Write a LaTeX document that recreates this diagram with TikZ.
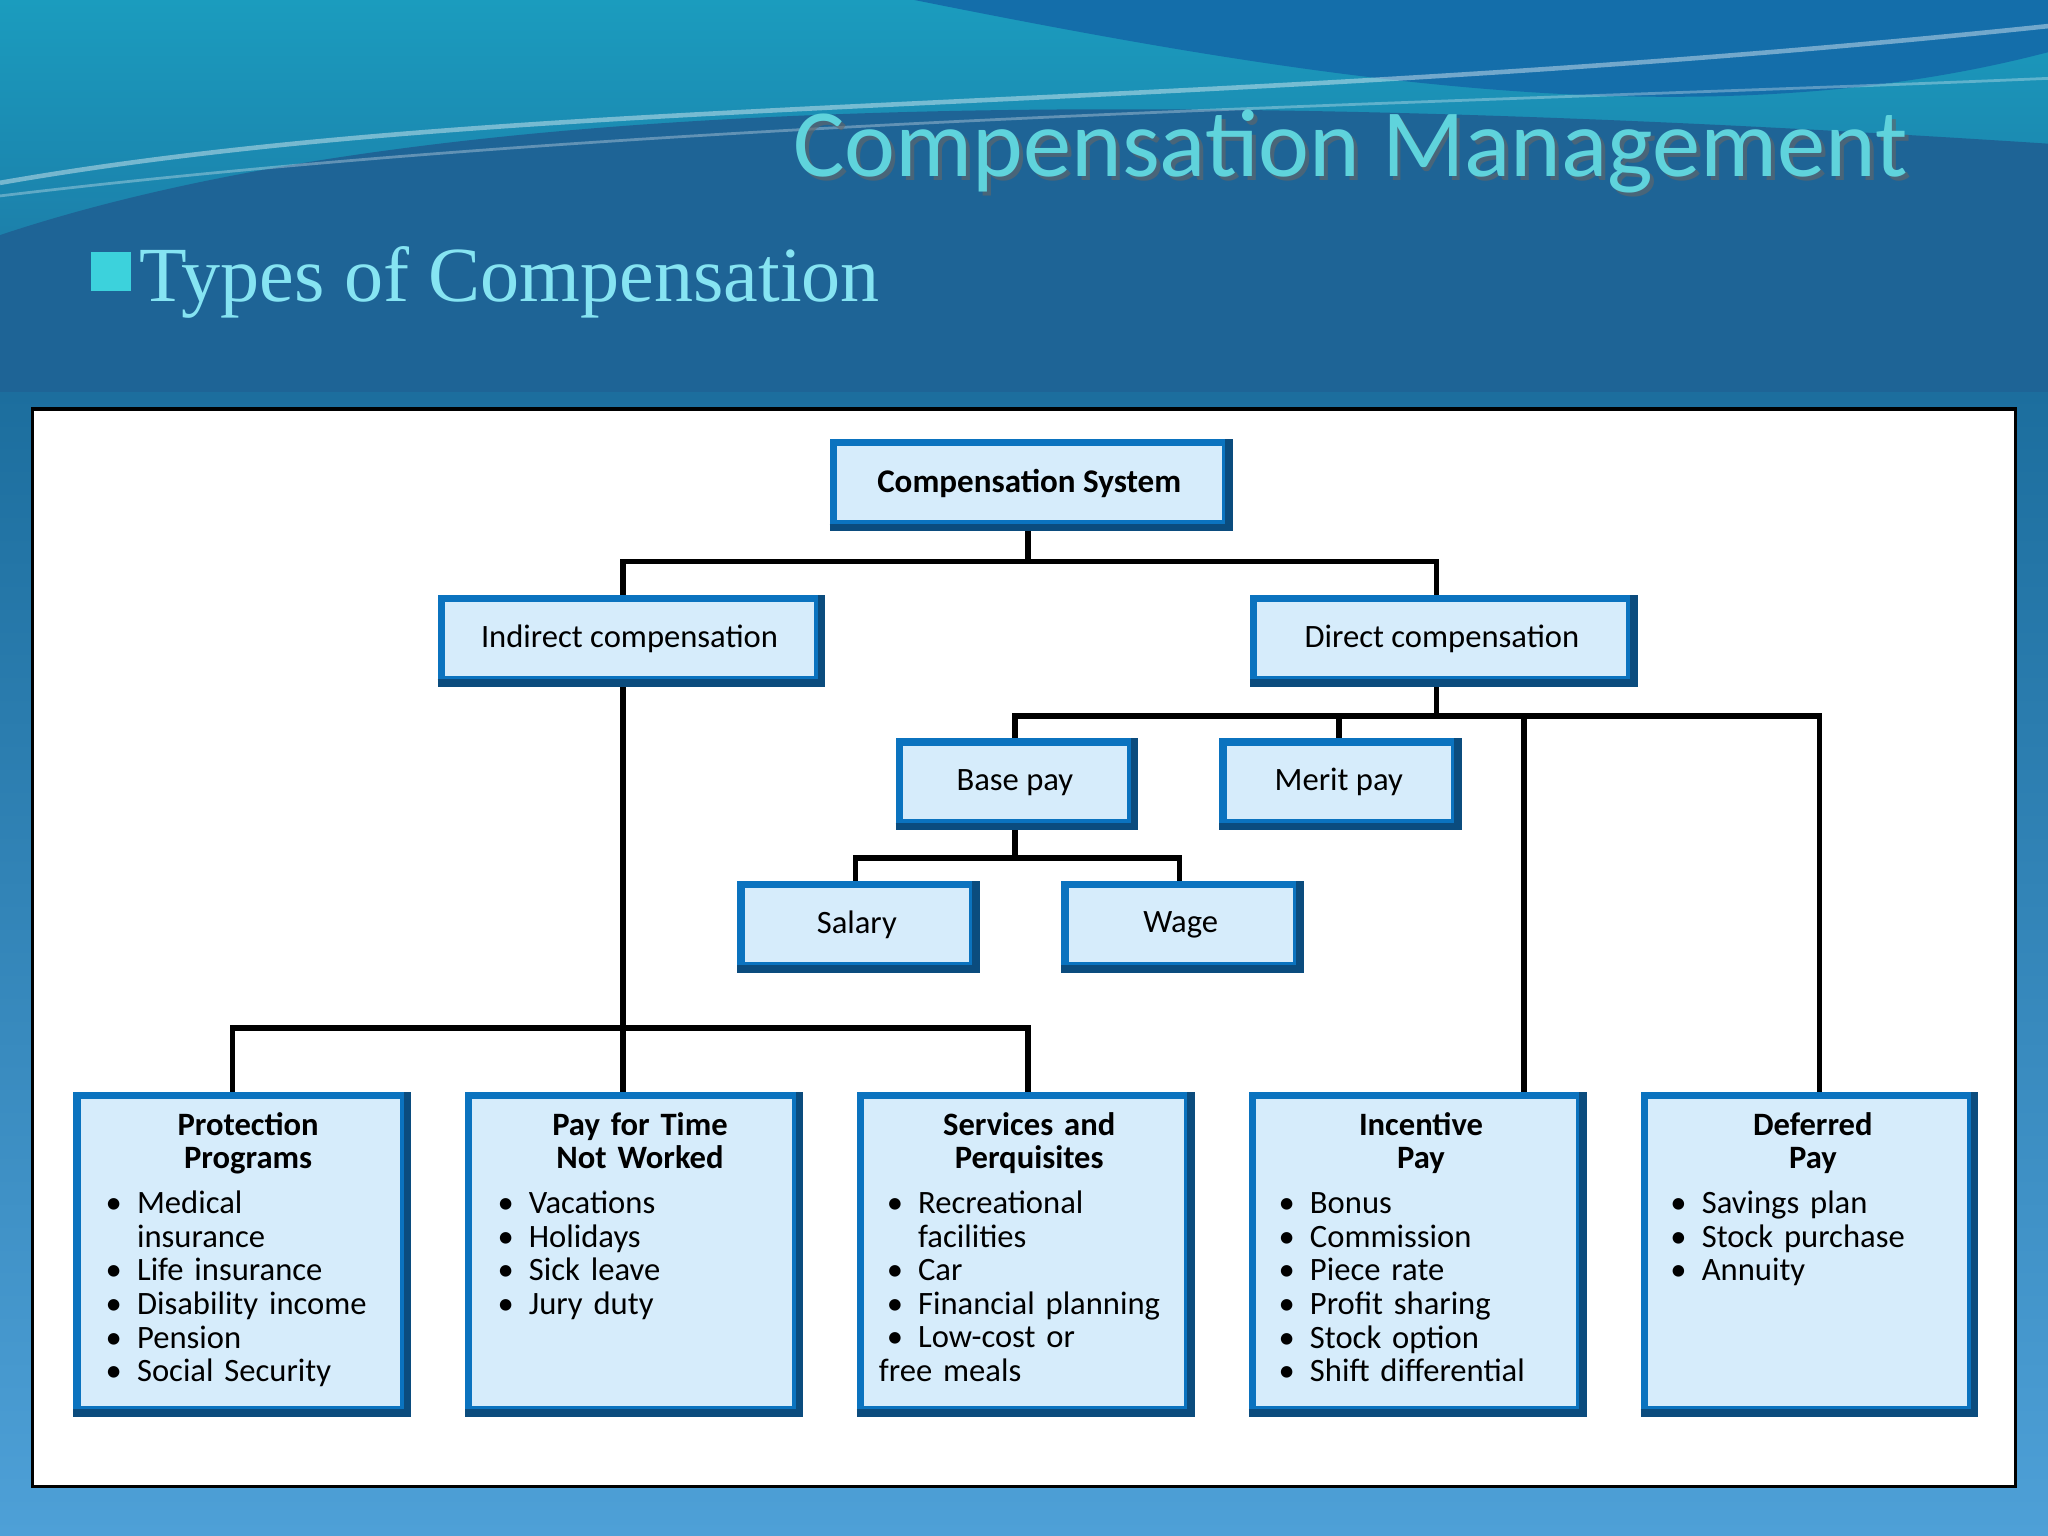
\documentclass[tikz,border=0pt]{standalone}
\usepackage{fontspec}
\setmainfont{Carlito}
\newfontfamily\serifT{Liberation Serif}
\definecolor{bfill}{HTML}{D6ECFB}
\definecolor{bline}{HTML}{0B73BF}
\definecolor{bdark}{HTML}{0B4C7E}
\definecolor{ttl}{HTML}{5FD3DC}
\definecolor{sub}{HTML}{86E4F2}
\definecolor{bgtop}{HTML}{1B9CBE}
\definecolor{bgmid}{HTML}{1C6E9E}
\definecolor{bgbot}{HTML}{4EA0D7}
\definecolor{wave1}{HTML}{1E6496}
\definecolor{wave2}{HTML}{146EAA}
\definecolor{sq}{HTML}{3CD2DC}
\newcommand\bitem[1]{\par\hangindent=0.3cm\hangafter=1\noindent\hspace*{0.06cm}\makebox[0.24cm][l]{\textbullet}#1}
\tikzset{
 bx/.style={draw=bline,fill=bfill,line width=1.6pt,minimum height=0.62cm,font=\fontsize{7.1}{8}\selectfont},
 bigbx/.style={draw=bline,fill=bfill,line width=1.6pt,minimum width=2.5cm,minimum height=2.4cm},
 lst/.style={anchor=north,text width=2.3cm,inner sep=0pt,font=\fontsize{7.1}{7.3}\selectfont,align=left},
 con/.style={line width=1.2pt,black},
 bev/.style={bdark,line width=1.6pt}
}
\begin{document}
\begin{tikzpicture}[x=0.01cm,y=-0.01cm]
\useasboundingbox (0,0) rectangle (1568,1176);
\shade[top color=bgtop,bottom color=bgmid] (0,0) rectangle (1568,300);
\shade[top color=bgmid,bottom color=bgbot] (0,300) rectangle (1568,1176);
\fill[wave1] (0,180) .. controls (300,80) and (800,60) .. (1568,110) -- (1568,300) -- (0,300) -- cycle;
\fill[wave2] (700,0) .. controls (1000,60) and (1300,110) .. (1568,40) -- (1568,0) -- cycle;
\draw[white,opacity=0.4,line width=1pt] (0,140) .. controls (400,70) and (900,90) .. (1568,20);
\draw[white,opacity=0.3,line width=0.6pt] (0,150) .. controls (500,90) and (1100,80) .. (1568,60);
\node[text=black!60,opacity=0.6,font=\fontsize{21}{24}\selectfont] at (1037,119) {Compensation Management};
\node[text=ttl,font=\fontsize{21}{24}\selectfont] (title) at (1034,116) {Compensation Management};
\fill[sq] (70,193) rectangle (100,223);
\node[anchor=west,text=sub,font=\serifT\fontsize{17}{20}\selectfont,inner sep=0pt] (sub) at (106,216) {Types of Compensation};
\draw[black,fill=white,line width=0.8pt] (25,313) rectangle (1543,1138);
% connectors
\draw[con] (787,402) -- (787,430);
\draw[con] (477,457) -- (477,430) -- (1100,430) -- (1100,457);
\draw[con] (477,521) -- (477,837);
\draw[con] (178,837) -- (178,787) -- (787,787) -- (787,837);
\draw[con] (1100,521) -- (1100,548);
\draw[con] (777,567) -- (777,548) -- (1393,548) -- (1393,837);
\draw[con] (1025,548) -- (1025,567);
\draw[con] (1167,548) -- (1167,837);
\draw[con] (777,631) -- (777,657);
\draw[con] (655,676) -- (655,657) -- (903,657) -- (903,676);
% boxes
\node[bx,minimum width=3.0cm,minimum height=0.62cm,font=\fontsize{7.2}{8}\selectfont\bfseries] (cs) at (788,370) {Compensation System};
\node[bx,minimum width=2.88cm] (ind) at (482,489) {Indirect compensation};
\node[bx,minimum width=2.88cm] (dir) at (1104,489) {Direct compensation};
\node[bx,minimum width=1.77cm] (base) at (777,599) {Base pay};
\node[bx,minimum width=1.77cm] (merit) at (1025,599) {Merit pay};
\node[bx,minimum width=1.77cm] (sal) at (656,708) {Salary};
\node[bx,minimum width=1.77cm] (wage) at (904,708) {Wage};
\node[bigbx] (b1) at (184,959) {};
\node[bigbx] (b2) at (484,959) {};
\node[bigbx] (b3) at (784,959) {};
\node[bigbx] (b4) at (1084,959) {};
\node[bigbx] (b5) at (1384,959) {};
\foreach \n in {cs,ind,dir,base,merit,sal,wage,b1,b2,b3,b4,b5}{
 \draw[bev] (\n.south west) -- (\n.south east) -- (\n.north east);
}
\node[lst] (t1) at (190,851) {{\centering\bfseries Protection\\Programs\par}\vspace{2.5pt}\raggedright
 \bitem{Medical\newline insurance}\bitem{Life insurance}\bitem{Disability income}\bitem{Pension}\bitem{Social Security}};
\node[lst] (t2) at (490,851) {{\centering\bfseries Pay for Time\\Not Worked\par}\vspace{2.5pt}\raggedright
 \bitem{Vacations}\bitem{Holidays}\bitem{Sick leave}\bitem{Jury duty}};
\node[lst] (t3) at (788,851) {{\centering\bfseries Services and\\Perquisites\par}\vspace{2.5pt}\raggedright
 \bitem{Recreational\newline facilities}\bitem{Car}\bitem{Financial planning}\bitem{Low-cost or\newline free meals}};
\node[lst] (t4) at (1088,851) {{\centering\bfseries Incentive\\Pay\par}\vspace{2.5pt}\raggedright
 \bitem{Bonus}\bitem{Commission}\bitem{Piece rate}\bitem{Profit sharing}\bitem{Stock option}\bitem{Shift differential}};
\node[lst] (t5) at (1388,851) {{\centering\bfseries Deferred\\Pay\par}\vspace{2.5pt}\raggedright
 \bitem{Savings plan}\bitem{Stock purchase}\bitem{Annuity}};
\end{tikzpicture}
\end{document}
